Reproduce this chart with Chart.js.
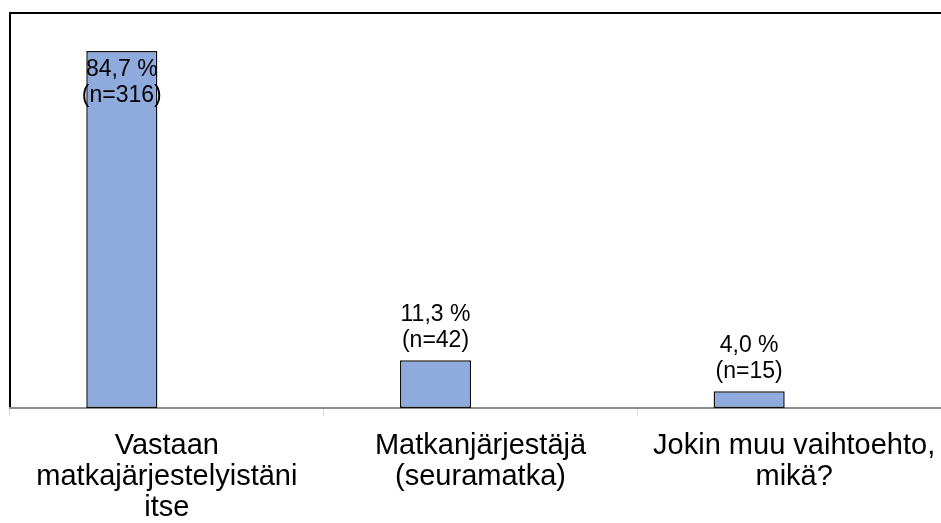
<!DOCTYPE html>
<html>
<head>
<meta charset="utf-8">
<script src="https://cdn.jsdelivr.net/npm/chart.js@4/dist/chart.umd.min.js"></script>
<style>
  html, body { margin: 0; padding: 0; background: #fff; overflow: hidden; }
  #wrap { width: 951px; height: 538px; }
</style>
</head>
<body>
<div id="wrap"><canvas id="chart"></canvas></div>
<script>
const categories = [
  ['Vastaan', 'matkajärjestelyistäni', 'itse'],
  ['Matkanjärjestäjä', '(seuramatka)'],
  ['Jokin muu vaihtoehto,', 'mikä?']
];
const percents = [84.7, 11.3, 4.0];
const counts = [316, 42, 15];
const otherSeries = [0, 0, 0];

const FONT = '"Liberation Sans", Arial, sans-serif';

function fmtPct(v) {
  return v.toFixed(1).replace('.', ',') + ' %';
}

// black frame round the plot area (drawn before the axis so the grey axis sits on top)
const framePlugin = {
  id: 'frame',
  beforeDraw(chart) {
    const a = chart.chartArea;
    const ctx = chart.ctx;
    ctx.save();
    ctx.strokeStyle = '#000';
    ctx.lineWidth = 2;
    ctx.strokeRect(a.left, a.top, a.right - a.left, a.bottom - a.top);
    ctx.restore();
  }
};

// two-line value labels above the bars, inside the bar when there is no room
const labelPlugin = {
  id: 'barLabels',
  afterDatasetsDraw(chart) {
    const ctx = chart.ctx;
    const meta = chart.getDatasetMeta(0);
    const top = chart.chartArea.top;
    ctx.save();
    ctx.font = '23px ' + FONT;
    ctx.fillStyle = '#000';
    ctx.textAlign = 'center';
    ctx.textBaseline = 'alphabetic';
    meta.data.forEach(function(bar, i) {
      const lines = [fmtPct(percents[i]), '(n=' + counts[i] + ')'];
      let y1 = bar.y - 39;
      if (y1 - 17 < top) {
        y1 = bar.y + 25;
      }
      ctx.fillText(lines[0], bar.x, y1);
      ctx.fillText(lines[1], bar.x, y1 + 26);
    });
    ctx.restore();
  }
};

new Chart(document.getElementById('chart'), {
  type: 'bar',
  data: {
    labels: categories,
    datasets: [{
        data: percents,
        backgroundColor: '#8FAADC',
        borderColor: '#111',
        borderWidth: 1.5,
        borderSkipped: false,
        categoryPercentage: 0.574,
        barPercentage: 0.79
      }, {
        data: otherSeries,
        backgroundColor: '#F4B183',
        borderWidth: 0,
        categoryPercentage: 0.574,
        barPercentage: 0.79
      }
    ]
  },
  options: {
    responsive: true,
    maintainAspectRatio: false,
    animation: false,
    layout: {
      padding: { left: 10, top: 13, right: 0, bottom: 0 }
    },
    plugins: {
      legend: { display: false },
      tooltip: { enabled: false }
    },
    scales: {
      x: {
        z: 1,
        border: { display: true, color: '#8c8c8c', width: 2 },
        grid: {
          display: true,
          offset: true,
          drawOnChartArea: false,
          drawTicks: true,
          tickLength: 8,
          color: '#d9d9d9',
          lineWidth: 1
        },
        ticks: {
          color: '#000',
          font: { family: FONT, size: 29, lineHeight: 1.069 },
          padding: 14.5,
          maxRotation: 0,
          minRotation: 0,
          autoSkip: false
        }
      },
      y: {
        display: false,
        min: 0,
        max: 93.7
      }
    }
  },
  plugins: [framePlugin, labelPlugin]
});
</script>
</body>
</html>
